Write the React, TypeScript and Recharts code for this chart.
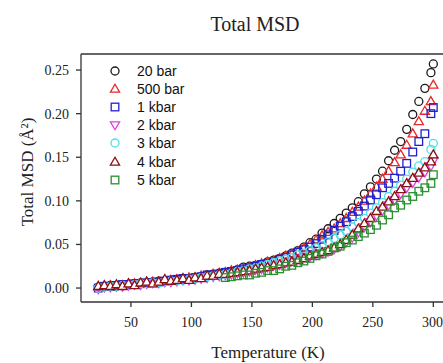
import React from "react";
import { ScatterChart, Scatter, XAxis, YAxis, ReferenceLine, Legend } from "recharts";

// temperatures (K)
const temps = [
  23, 28, 33, 38, 43, 48, 53, 58, 63, 68,
  73, 78, 83, 88, 93, 98, 103, 108, 113, 118,
  123, 128, 133, 138, 143, 148, 153, 158, 163, 168,
  173, 178, 183, 188, 193, 198, 203, 208, 213, 218,
  223, 228, 233, 238, 243, 248, 253, 258, 263, 268,
  273, 278, 283, 288, 293, 298, 300,
];

// total MSD (Å²) per pressure
const bar20 = [
  0.001, 0.002, 0.003, 0.002, 0.004, 0.004, 0.005, 0.006, 0.006, 0.007,
  0.008, 0.008, 0.009, 0.009, 0.011, 0.011, 0.012, 0.013, 0.015, 0.016,
  0.017, 0.018, 0.019, 0.021, 0.024, 0.025, 0.026, 0.027, 0.03, 0.032,
  0.034, 0.037, 0.04, 0.043, 0.047, 0.052, 0.056, 0.063, 0.068, 0.074,
  0.08, 0.086, 0.092, 0.099, 0.108, 0.116, 0.125, 0.134, 0.146, 0.158,
  0.168, 0.182, 0.199, 0.214, 0.229, 0.247, 0.257,
];
const bar500 = [
  0.002, 0.001, 0.003, 0.003, 0.003, 0.005, 0.005, 0.005, 0.007, 0.007,
  0.007, 0.009, 0.009, 0.01, 0.01, 0.012, 0.012, 0.014, 0.014, 0.016,
  0.017, 0.018, 0.02, 0.021, 0.022, 0.024, 0.026, 0.028, 0.03, 0.031,
  0.034, 0.037, 0.039, 0.042, 0.046, 0.05, 0.055, 0.06, 0.064, 0.068,
  0.074, 0.08, 0.087, 0.093, 0.1, 0.108, 0.116, 0.125, 0.134, 0.144,
  0.153, 0.164, 0.177, 0.191, 0.203, 0.214, 0.233,
];
const kbar1 = [
  0.0, 0.002, 0.002, 0.003, 0.004, 0.004, 0.005, 0.005, 0.006, 0.006,
  0.007, 0.008, 0.009, 0.01, 0.011, 0.01, 0.012, 0.013, 0.015, 0.015,
  0.016, 0.018, 0.019, 0.02, 0.022, 0.023, 0.025, 0.027, 0.028, 0.03,
  0.033, 0.035, 0.038, 0.041, 0.044, 0.047, 0.051, 0.056, 0.061, 0.066,
  0.071, 0.076, 0.082, 0.088, 0.094, 0.101, 0.107, 0.115, 0.12, 0.126,
  0.134, 0.143, 0.156, 0.168, 0.177, 0.2, 0.207,
];
const kbar2 = [
  -0.001, 0.001, 0.001, 0.002, 0.002, 0.003, 0.004, 0.004, 0.005, 0.006,
  0.006, 0.007, 0.007, 0.008, 0.009, 0.009, 0.01, 0.011, 0.012, 0.013,
  0.014, 0.015, 0.016, 0.017, 0.018, 0.019, 0.021, 0.022, 0.024, 0.026,
  0.027, 0.029, 0.031, 0.033, 0.035, 0.036, 0.038, 0.04, 0.042, 0.045,
  0.048, 0.053, 0.058, 0.064, 0.07, 0.076, 0.083, 0.089, 0.095, 0.101,
  0.108, 0.115, 0.121, 0.127, 0.133, 0.14, 0.146,
];
const kbar3 = [
  0.0, 0.001, 0.002, 0.002, 0.003, 0.003, 0.004, 0.005, 0.005, 0.006,
  0.006, 0.007, 0.008, 0.008, 0.009, 0.01, 0.011, 0.012, 0.013, 0.014,
  0.015, 0.016, 0.017, 0.019, 0.02, 0.022, 0.023, 0.025, 0.027, 0.029,
  0.031, 0.033, 0.035, 0.038, 0.04, 0.043, 0.046, 0.049, 0.053, 0.057,
  0.061, 0.065, 0.07, 0.075, 0.08, 0.086, 0.092, 0.098, 0.105, 0.111,
  0.118, 0.125, 0.133, 0.14, 0.145, 0.159, 0.166,
];
const kbar4 = [
  0.002, 0.003, 0.002, 0.004, 0.002, 0.005, 0.003, 0.006, 0.007, 0.005,
  0.007, 0.01, 0.008, 0.009, 0.011, 0.009, 0.012, 0.011, 0.014, 0.014,
  0.016, 0.016, 0.017, 0.018, 0.019, 0.02, 0.022, 0.023, 0.024, 0.026,
  0.027, 0.029, 0.03, 0.032, 0.034, 0.037, 0.039, 0.041, 0.043, 0.046,
  0.05, 0.055, 0.061, 0.068, 0.074, 0.08, 0.088, 0.093, 0.099, 0.105,
  0.113, 0.12, 0.126, 0.132, 0.138, 0.145, 0.153,
];
const kbar5 = [
  null, null, null, null, null, null, null, null, null, null,
  null, null, null, null, null, null, null, null, null, null,
  null, 0.012, 0.013, 0.014, 0.015, 0.015, 0.017, 0.018, 0.02, 0.02,
  0.022, 0.025, 0.026, 0.029, 0.031, 0.034, 0.037, 0.039, 0.042, 0.046,
  0.048, 0.052, 0.055, 0.059, 0.063, 0.067, 0.072, 0.078, 0.084, 0.092,
  0.095, 0.101, 0.105, 0.111, 0.115, 0.12, 0.13,
];

const xTicks = [50, 100, 150, 200, 250, 300];
const yTicks = [0, 0.05, 0.1, 0.15, 0.2, 0.25];

type Kind = "circle" | "up" | "down" | "square";

const series: { name: string; values: (number | null)[]; color: string; kind: Kind; fill: string }[] = [
  { name: "20 bar", values: bar20, color: "#1a1a1a", kind: "circle", fill: "none" },
  { name: "500 bar", values: bar500, color: "#e8282a", kind: "up", fill: "none" },
  { name: "1 kbar", values: kbar1, color: "#2020d0", kind: "square", fill: "none" },
  { name: "2 kbar", values: kbar2, color: "#e040e0", kind: "down", fill: "none" },
  { name: "3 kbar", values: kbar3, color: "#50e0e8", kind: "circle", fill: "none" },
  { name: "4 kbar", values: kbar4, color: "#8b1010", kind: "up", fill: "#fff" },
  { name: "5 kbar", values: kbar5, color: "#2a9030", kind: "square", fill: "none" },
];

const serif = "'Liberation Serif', 'Times New Roman', serif";

const Marker = ({ cx, cy, kind, color, fill }: { cx: number; cy: number; kind: Kind; color: string; fill: string }) => {
  const sw = 1.3;
  if (kind === "circle") return <circle cx={cx} cy={cy} r={4} fill={fill} stroke={color} strokeWidth={sw} />;
  if (kind === "square")
    return <rect x={cx - 3.8} y={cy - 3.8} width={7.6} height={7.6} fill={fill} stroke={color} strokeWidth={sw} />;
  if (kind === "up")
    return (
      <polygon
        points={`${cx},${cy - 4.8} ${cx - 4.6},${cy + 3.2} ${cx + 4.6},${cy + 3.2}`}
        fill={fill}
        stroke={color}
        strokeWidth={sw}
      />
    );
  return (
    <polygon
      points={`${cx},${cy + 4.8} ${cx - 4.6},${cy - 3.2} ${cx + 4.6},${cy - 3.2}`}
      fill={fill}
      stroke={color}
      strokeWidth={sw}
    />
  );
};

const LegendBox = () => (
  <div style={{ fontFamily: "'Liberation Sans', Arial, sans-serif", fontSize: 14, color: "#111" }}>
    {series.map((s) => (
      <div key={s.name} style={{ display: "flex", alignItems: "center", height: 18.2 }}>
        <svg width={16} height={16}>
          <Marker cx={8} cy={8} kind={s.kind} color={s.color} fill="none" />
        </svg>
        <span style={{ marginLeft: 14, lineHeight: "16px" }}>{s.name}</span>
      </div>
    ))}
  </div>
);

export default function App() {
  return (
    <div style={{ position: "absolute", left: 0, top: 0, width: 443, height: 363, background: "#fff" }}>
      <div
        style={{
          position: "absolute",
          left: 0,
          width: 510,
          top: 13,
          textAlign: "center",
          fontFamily: serif,
          fontSize: 20,
          lineHeight: "22px",
          color: "#222",
        }}
      >
        Total MSD
      </div>
      <div
        style={{
          position: "absolute",
          left: 27,
          top: 172,
          transform: "translate(-50%, -50%) rotate(-90deg)",
          whiteSpace: "nowrap",
          fontFamily: serif,
          fontSize: 17,
          lineHeight: "17px",
          color: "#222",
        }}
      >
        Total MSD (Å²)
      </div>
      <div
        style={{
          position: "absolute",
          left: 0,
          width: 536,
          top: 343,
          textAlign: "center",
          fontFamily: serif,
          fontSize: 17,
          lineHeight: "19px",
          color: "#222",
        }}
      >
        Temperature (K)
      </div>
      <ScatterChart width={443} height={363} margin={{ top: 54, right: 0, bottom: 21, left: 0 }}>
        <XAxis
          type="number"
          dataKey="x"
          domain={[8.7, 308]}
          ticks={xTicks}
          allowDataOverflow
          height={40}
          tickSize={5}
          tickMargin={10}
          stroke="#333"
          strokeWidth={1.3}
          tick={{ fontSize: 14, fontFamily: serif, fill: "#222" }}
        />
        <YAxis
          type="number"
          dataKey="y"
          domain={[-0.016, 0.2684]}
          ticks={yTicks}
          allowDataOverflow
          width={81}
          tickSize={5}
          tickMargin={7}
          stroke="#333"
          strokeWidth={1.3}
          tickFormatter={(v: number) => v.toFixed(2)}
          tick={{ fontSize: 14, fontFamily: serif, fill: "#222" }}
        />
        <ReferenceLine y={0.2684} stroke="#333" strokeWidth={1.3} />
        {series.map((s) => (
          <Scatter
            key={s.name}
            name={s.name}
            data={temps
              .map((t, i) => ({ x: t, y: s.values[i] }))
              .filter((d) => d.y !== null)}
            isAnimationActive={false}
            shape={(p: any) => <Marker cx={p.cx} cy={p.cy} kind={s.kind} color={s.color} fill={s.fill} />}
          />
        ))}
        <Legend
          layout="vertical"
          align="center"
          verticalAlign="middle"
          wrapperStyle={{ left: 107, top: 61.6, width: 120, height: "auto" }}
          content={() => <LegendBox />}
        />
      </ScatterChart>
    </div>
  );
}
